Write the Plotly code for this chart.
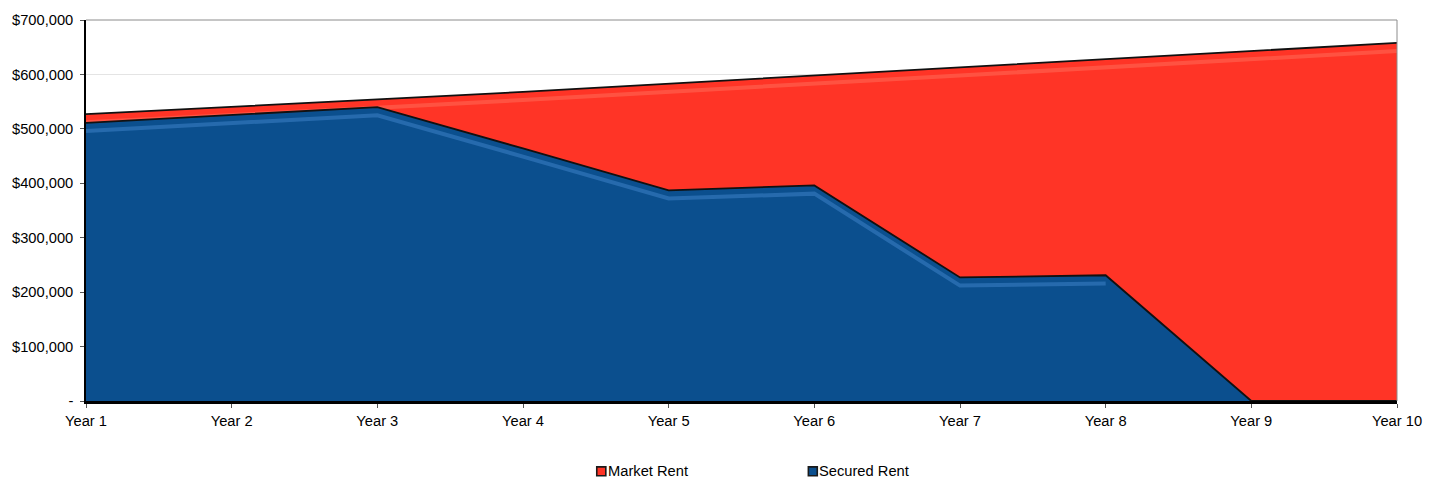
import plotly.graph_objects as go

# Ten-year rent projection
years = ["Year 1", "Year 2", "Year 3", "Year 4", "Year 5",
         "Year 6", "Year 7", "Year 8", "Year 9", "Year 10"]
market_rent = [527000, 540000, 554000, 568000, 583000,
               597000, 612000, 627000, 643000, 658000]
secured_rent = [511000, 525000, 540000, 464000, 387000,
                396000, 227000, 231000, 0, 0]

y_tick_vals = [0, 100000, 200000, 300000, 400000, 500000, 600000, 700000]
y_tick_text = ["-", "$100,000", "$200,000", "$300,000", "$400,000",
               "$500,000", "$600,000", "$700,000"]

RED = "rgb(255,52,38)"
BLUE = "rgb(11,79,142)"
FONT = dict(family="Liberation Sans, Arial, sans-serif", size=14.7, color="#000")

# Depth of the soft bevel highlight drawn just inside each area's top edge
BEVEL = 15000


def bevel_line(values):
    return [max(v - BEVEL, 0) if v > 0 else None for v in values]


fig = go.Figure()

fig.add_trace(go.Scatter(
    x=years, y=market_rent, name="Market Rent", mode="lines",
    fill="tozeroy", fillcolor=RED,
    line=dict(color="#111", width=1.8), showlegend=False,
))
fig.add_trace(go.Scatter(
    x=years, y=bevel_line(market_rent), mode="lines", hoverinfo="skip",
    line=dict(color="rgba(255,120,100,0.45)", width=4), showlegend=False,
))
fig.add_trace(go.Scatter(
    x=years, y=secured_rent, name="Secured Rent", mode="lines",
    fill="tozeroy", fillcolor=BLUE,
    line=dict(color="#111", width=1.8), showlegend=False,
))
fig.add_trace(go.Scatter(
    x=years, y=bevel_line(secured_rent), mode="lines", hoverinfo="skip",
    line=dict(color="rgba(70,140,210,0.45)", width=4), showlegend=False,
))

# Plot frame: gray top and right edges
fig.add_shape(type="line", xref="paper", yref="paper", x0=0, x1=1, y0=1, y1=1,
              line=dict(color="#8c8c8c", width=1), layer="above")
fig.add_shape(type="line", xref="paper", yref="paper", x0=1, x1=1, y0=0, y1=1,
              line=dict(color="#8c8c8c", width=1), layer="above")

# Legend entries drawn as swatches with labels underneath the chart
legend_items = [
    ("Market Rent", RED, 0.3896, 0.3965),
    ("Secured Rent", BLUE, 0.5510, 0.5578),
]
for label, color, sx0, sx1 in legend_items:
    fig.add_shape(type="rect", xref="paper", yref="paper",
                  x0=sx0, x1=sx1, y0=-0.196, y1=-0.173,
                  fillcolor=color, line=dict(color="#1a1a1a", width=1.6))
    fig.add_annotation(text=label, xref="paper", yref="paper",
                       x=sx1, y=-0.1845, xanchor="left", yanchor="middle",
                       showarrow=False, font=FONT)

fig.update_layout(
    width=1441, height=484,
    margin=dict(l=83, r=44, t=16, b=83),
    paper_bgcolor="white", plot_bgcolor="white",
    font=FONT,
    xaxis=dict(
        type="category", range=[0, 9], showgrid=False,
        showline=True, linecolor="#000", linewidth=3,
        ticks="outside", ticklen=4, tickcolor="#555",
        ticklabelstandoff=0, tickfont=FONT, zeroline=False,
    ),
    yaxis=dict(
        range=[0, 700000], tickvals=y_tick_vals, ticktext=y_tick_text,
        showgrid=True, gridcolor="#e4e4e4", gridwidth=1,
        showline=True, linecolor="#000", linewidth=1.5,
        ticks="outside", ticklen=4, tickcolor="#555",
        ticklabelstandoff=4, tickfont=FONT, zeroline=False,
    ),
    showlegend=False,
)

fig.write_html("out.html")
